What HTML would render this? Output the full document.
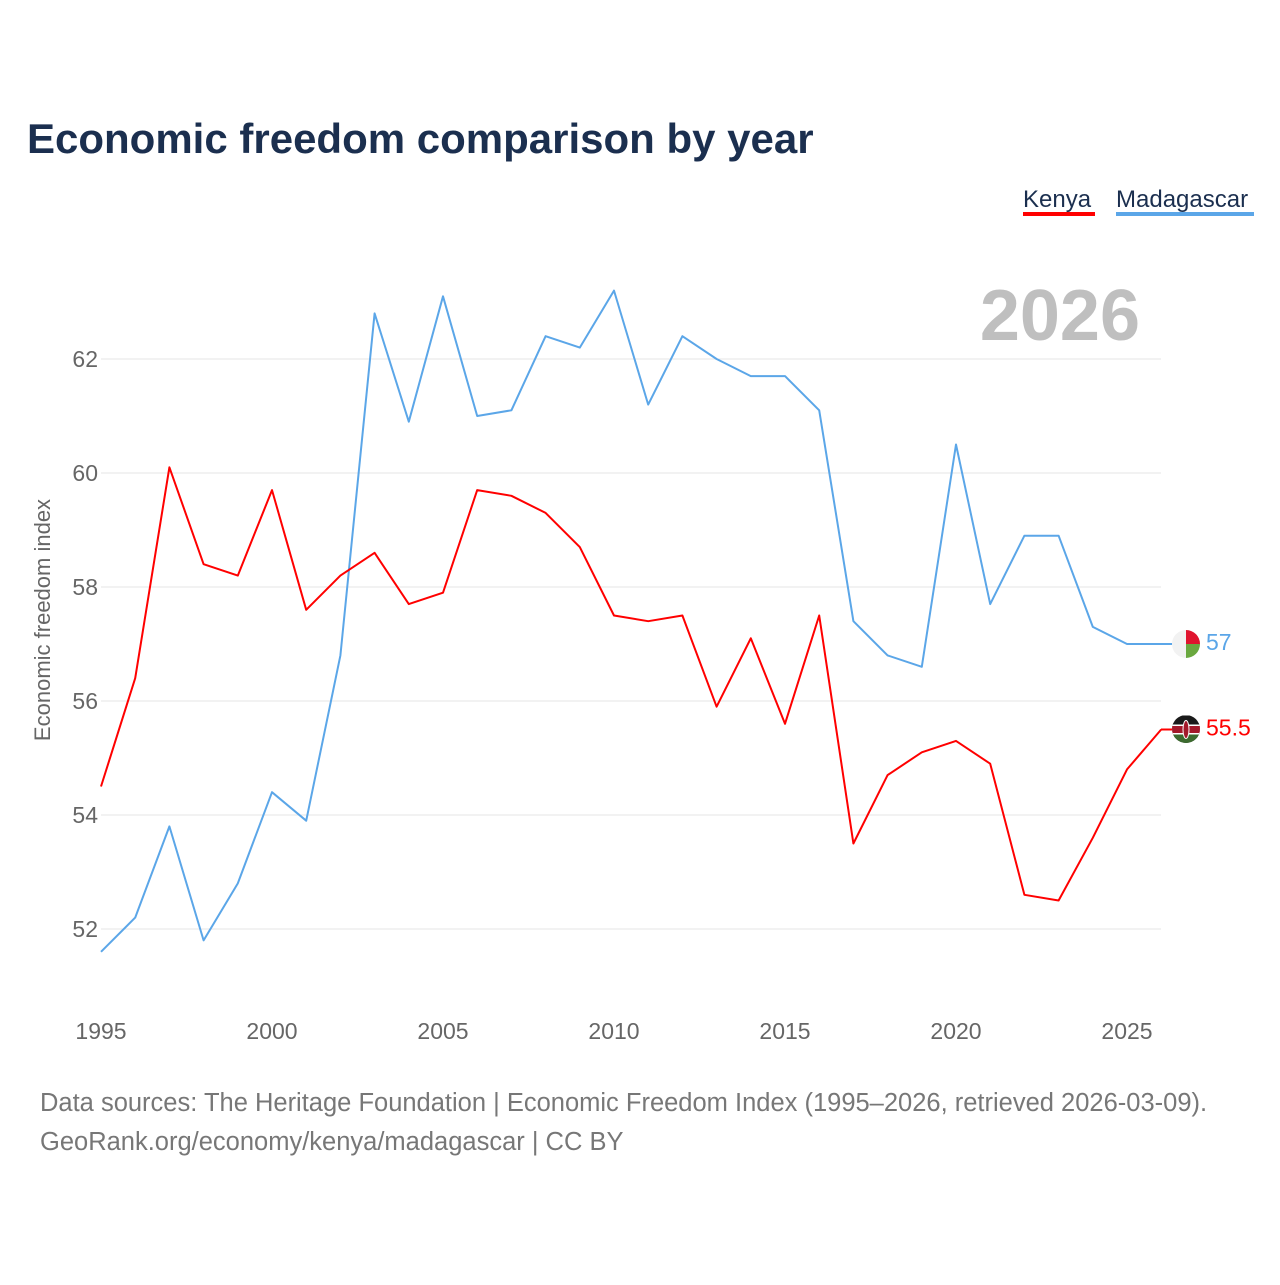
<!DOCTYPE html>
<html><head><meta charset="utf-8">
<style>
body{margin:0;background:#fff;font-family:"Liberation Sans",sans-serif;}
svg text{font-family:"Liberation Sans",sans-serif;}
</style></head>
<body>
<svg id="chart" width="1280" height="1280" viewBox="0 0 1280 1280">
<defs><clipPath id="kc"><circle cx="1186" cy="729" r="14"/></clipPath></defs>
<text x="27" y="153" font-size="42" font-weight="bold" fill="#1b2f4f">Economic freedom comparison by year</text>
<g>
<text x="1023" y="207" font-size="24" fill="#1b2f4f">Kenya</text>
<rect x="1023" y="212" width="72" height="4" fill="#ff0000"/>
</g>
<g>
<text x="1116" y="207" font-size="24" fill="#1b2f4f">Madagascar</text>
<rect x="1116" y="212" width="138" height="4" fill="#5ba6e8"/>
</g>
<text x="1140" y="340" font-size="72" font-weight="bold" fill="#bfbfbf" text-anchor="end">2026</text>
<text transform="translate(50,620) rotate(-90)" font-size="22" fill="#666" text-anchor="middle">Economic freedom index</text>
<g id="grid"></g><g id="yt"></g><g id="xt"></g><g id="lines"></g><g id="ends"></g>
<text x="40" y="1111" font-size="25.5" fill="#777">Data sources: The Heritage Foundation | Economic Freedom Index (1995–2026, retrieved 2026-03-09).</text>
<text x="40" y="1150" font-size="25.5" fill="#777">GeoRank.org/economy/kenya/madagascar | CC BY</text>
</svg>
<script>
const years=[1995,1996,1997,1998,1999,2000,2001,2002,2003,2004,2005,2006,2007,2008,2009,2010,2011,2012,2013,2014,2015,2016,2017,2018,2019,2020,2021,2022,2023,2024,2025,2026];
const kenya=[54.5,56.4,60.1,58.4,58.2,59.7,57.6,58.2,58.6,57.7,57.9,59.7,59.6,59.3,58.7,57.5,57.4,57.5,55.9,57.1,55.6,57.5,53.5,54.7,55.1,55.3,54.9,52.6,52.5,53.6,54.8,55.5];
const madagascar=[51.6,52.2,53.8,51.8,52.8,54.4,53.9,56.8,62.8,60.9,63.1,61.0,61.1,62.4,62.2,63.2,61.2,62.4,62.0,61.7,61.7,61.1,57.4,56.8,56.6,60.5,57.7,58.9,58.9,57.3,57.0,57.0];
const yTicks=[52,54,56,58,60,62];
const xTicks=[1995,2000,2005,2010,2015,2020,2025];
const NS="http://www.w3.org/2000/svg";
const X=v=>101+(v-1995)*34.2;
const Y=v=>359+(62-v)*57;
function mk(tag,attrs,parent){const e=document.createElementNS(NS,tag);for(const k in attrs)e.setAttribute(k,attrs[k]);document.getElementById(parent).appendChild(e);return e;}
yTicks.forEach(t=>{
 const l=mk('line',{x1:101,x2:1161,y1:Y(t),y2:Y(t),stroke:'#e6e6e6','stroke-width':1},'grid');
 
 
 const tx=mk('text',{x:98,y:Y(t)+8,'font-size':23,fill:'#666','text-anchor':'end'},'yt');
 tx.textContent=t;
 
 
});
xTicks.forEach(t=>{
 const tx=mk('text',{x:X(t),y:1039,'font-size':23,fill:'#666','text-anchor':'middle'},'xt');
 tx.textContent=t;
 
 
});
function line(vals,color,name){
 const p=mk('polyline',{points:vals.map((v,i)=>X(years[i])+','+Y(v)).join(' '),fill:'none',stroke:color,'stroke-width':2,'stroke-linejoin':'round'},'lines');
 
 
}
line(madagascar,'#5ba6e8','madagascar-line');
line(kenya,'#ff0000','kenya-line');
function end(vals,color,name,flag){
 const v=vals[vals.length-1],y=Y(v),x=1186;
 const g=mk('g',{},'ends');
 
 
 const add=(t,a,par)=>{const e=document.createElementNS(NS,t);for(const k in a)e.setAttribute(k,a[k]);(par||g).appendChild(e);return e;};
 add('line',{x1:1161,x2:x-14,y1:y,y2:y,stroke:color,'stroke-width':2});
 if(flag==='mg'){
  add('path',{d:`M${x} ${y-14}A14 14 0 0 0 ${x} ${y+14}Z`,fill:'#f2f2f2'});
  add('path',{d:`M${x} ${y-14}A14 14 0 0 1 ${x+14} ${y}L${x} ${y}Z`,fill:'#e0142e'});
  add('path',{d:`M${x} ${y}L${x+14} ${y}A14 14 0 0 1 ${x} ${y+14}Z`,fill:'#6aa83f'});
 }else{
  const fg=add('g',{'clip-path':'url(#kc)'});
  add('rect',{x:x-14,y:y-14,width:28,height:28,fill:'#1a1a1a'},fg);
  add('rect',{x:x-14,y:y+4,width:28,height:10,fill:'#3d6b2f'},fg);
  add('rect',{x:x-14,y:y-5,width:28,height:10,fill:'#fff'},fg);
  add('rect',{x:x-14,y:y-3.5,width:28,height:7,fill:'#a3182a'},fg);
  add('ellipse',{cx:x,cy:y,rx:3,ry:9,fill:'#a3182a',stroke:'#fff','stroke-width':1},fg);
 }
 const t=document.createElementNS(NS,'text');
 t.setAttribute('x',x+20);t.setAttribute('y',y+6);t.setAttribute('font-size',23);t.setAttribute('fill',color);
 t.textContent=v;g.appendChild(t);
}
end(madagascar,'#5ba6e8','madagascar-end-label','mg');
end(kenya,'#ff0000','kenya-end-label','ke');
</script>
</body></html>
